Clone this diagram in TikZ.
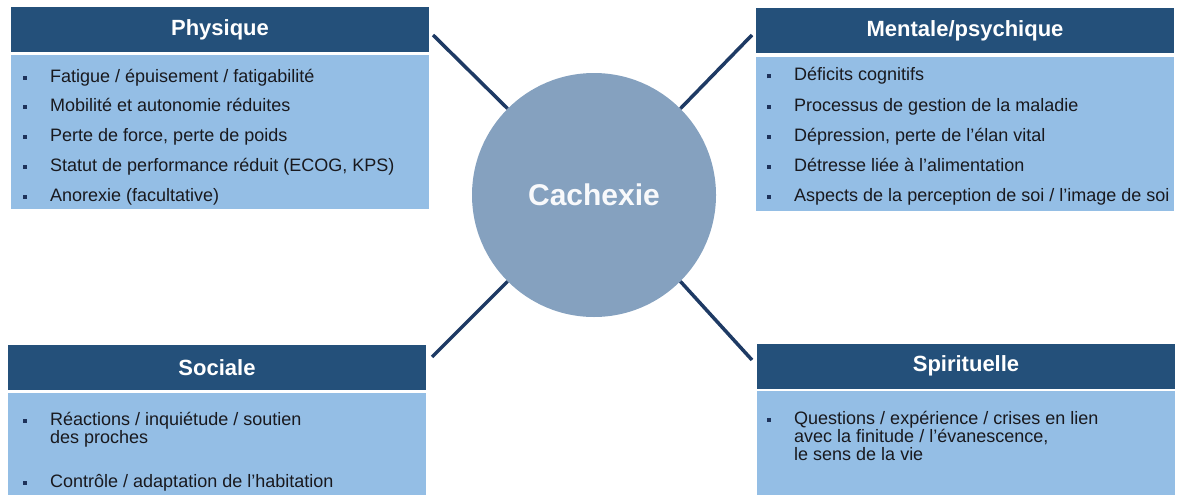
\documentclass[tikz,border=0pt]{standalone}
\usepackage{fontspec}
\setmainfont{Liberation Sans}

\definecolor{hdblue}{RGB}{36,80,122}
\definecolor{panelblue}{RGB}{148,190,229}
\definecolor{circblue}{RGB}{133,161,191}
\definecolor{linkblue}{RGB}{30,58,100}
\definecolor{puceblue}{RGB}{30,50,90}
\definecolor{itemtext}{RGB}{25,25,30}

% small square bullet hung left of the text
\newcommand{\puce}{\llap{\textcolor{puceblue}{\rule[2.5pt]{4pt}{4pt}}\hspace{23pt}}}

\tikzset{
	header/.style={fill=hdblue, text=white, inner sep=0pt, minimum width=418pt, minimum height=45pt, font=\fontsize{22}{26}\selectfont\bfseries},
	panel/.style={fill=panelblue, inner sep=0pt, minimum width=418pt},
	item/.style={anchor=base west, inner sep=0pt, align=left, text=itemtext, font=\fontsize{18}{18}\selectfont},
	link/.style={draw=linkblue, line width=3.5pt},
}

\begin{document}
\begin{tikzpicture}[x=1pt, y=-1pt]

	\useasboundingbox (0,0) rectangle (1182,495);

	\node (cach) [circle, fill=circblue, inner sep=0pt, minimum size=244pt, text=white!94!circblue, font=\fontsize{30}{36}\selectfont\bfseries] at (594,195) {\raisebox{-3pt}{Cachexie}};

	% Physique
	\node (phy) [header] at (220,29.5) {Physique};
	\node (phybox) [panel, minimum height=154pt] at (220,132) {};
	\node (phy1) [item] at (50,82) {\puce Fatigue / épuisement / fatigabilité};
	\node (phy2) [item] at (50,111) {\puce Mobilité et autonomie réduites};
	\node (phy3) [item] at (50,141) {\puce Perte de force, perte de poids};
	\node (phy4) [item] at (50,171) {\puce Statut de performance réduit (ECOG, KPS)};
	\node (phy5) [item] at (50,201) {\puce Anorexie (facultative)};

	% Mentale/psychique
	\node (men) [header] at (965,31) {Mentale/psychique};
	\node (menbox) [panel, minimum height=154pt] at (965,134) {};
	\node (men1) [item] at (794,81) {\puce Déficits cognitifs};
	\node (men2) [item] at (794,111) {\puce Processus de gestion de la maladie};
	\node (men3) [item] at (794,141) {\puce Dépression, perte de l’élan vital};
	\node (men4) [item] at (794,171) {\puce Détresse liée à l’alimentation};
	\node (men5) [item] at (794,201) {\puce Aspects de la perception de soi / l’image de soi};

	% Sociale (multi-line nodes sit on their last line)
	\node (soc) [header] at (217,367.5) {Sociale};
	\node (socbox) [panel, minimum height=102pt] at (217,444) {};
	\node (soc1) [item] at (50,443) {\puce Réactions / inquiétude / soutien\\des proches};
	\node (soc2) [item] at (50,487) {\puce Contrôle / adaptation de l’habitation};

	% Spirituelle
	\node (spi) [header] at (966,366) {Spirituelle};
	\node (spibox) [panel, minimum height=104pt] at (966,443) {};
	\node (spi1) [item] at (794,460) {\puce Questions / expérience / crises en lien\\avec la finitude / l’évanescence,\\le sens de la vie};

	\coordinate (phyend) at (433,35);
	\coordinate (menend) at (752,35);
	\coordinate (socend) at (432,357);
	\coordinate (spiend) at (752,360);

	\path[link]
	(cach.north west) edge (phyend)
	(cach.north east) edge (menend)
	(cach.south west) edge (socend)
	(cach.south east) edge (spiend);

\end{tikzpicture}
\end{document}
